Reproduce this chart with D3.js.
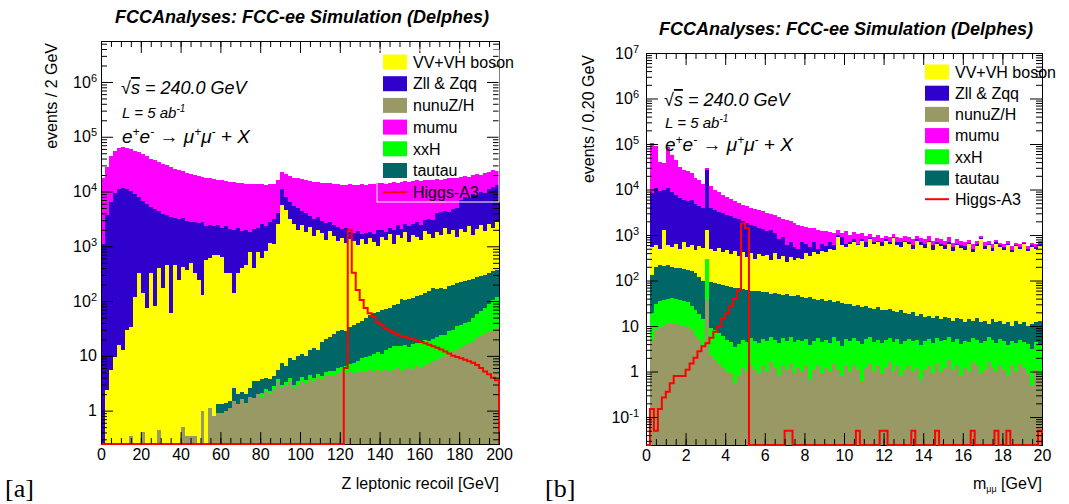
<!DOCTYPE html>
<html lang="en">
<head>
<meta charset="UTF-8" />
<title>FCC-ee recoil and dimuon mass</title>
<script src="https://d3js.org/d3.v7.min.js"></script>
<style>
  body { margin: 0; background: #fff; }
  svg { display: block; font-family: "Liberation Sans", Arial, sans-serif; }
</style>
</head>
<body>
<svg id="chart" width="1069" height="504"></svg>
<script>
// stack order, bottom first
const processes = ["nunuZ/H", "xxH", "tautau", "VV+VH boson", "Zll & Zqq", "mumu"];
const colors = ["#999966", "#00ff00", "#006666", "#ffff00", "#3000cc", "#ff00ff"];
const legendOrder = ["VV+VH boson", "Zll & Zqq", "nunuZ/H", "mumu", "xxH", "tautau"];

// ---- panel a: Z leptonic recoil, 2 GeV bins from 0 to 200
const nunuA = [
  0,0,0,0,0,0,0,0.35,0,0,
  0.4,0,0,0,0.45,0,0,0,0,0,
  0.5,0.35,0.35,0.35,0,1.0,0,1.1,0.8,0.9,
  0.9,1.0,1.1,1.5,1.3,1.6,1.4,1.8,1.7,2.0,
  1.8,2.2,2.0,2.4,3.4,2.6,2.8,3.4,2.6,3.0,
  3.5,3.2,3.8,3.4,4.0,3.6,4.2,4.5,4.2,4.8,
  5.0,4.6,5.2,4.8,5.0,5.4,5.0,5.6,5.2,5.5,
  5.0,5.8,5.3,5.6,6.0,5.4,5.8,6.2,5.6,6.4,
  6.0,6.8,7.5,8.0,8.5,9.5,10,11,12,13,
  14,16,17,19,21,23,25,27,29,32];
const xxhA = [
  0,0,0,0,0,0,0,0,0,0,
  0,0,0,0,0,0,0,0,0,0,
  0,0,0,0,0,0,0,0,0,0,
  0,0,0,0,0,0,0,0,0,0,
  0.3,0.3,0.3,0.4,0.4,0.4,0.5,0.5,0.4,0.5,
  0.6,0.5,0.6,0.6,0.7,0.7,0.8,0.9,1.0,1.2,
  1.3,1.9,1.8,2.7,3.0,3.6,4.7,4.4,5.8,6.5,
  6.0,7.2,8.7,9.5,9.0,9.6,10,8.5,11,10.5,
  12,13,11.5,12,13.5,14.5,14,17,18,22,
  23,24,25,31,36,42,50,63,76,88];
const tautauA = [
  0,0,0,0,0,0,0,0,0,0,
  0,0,0,0,0,0,0,0,0,0,
  0,0,0,0,0,0,0,0,0,0.4,
  0.4,0.4,0.4,1.1,0.7,0.6,0.6,0.8,1.8,1.5,
  1.7,1.5,1.5,1.4,1.7,4.5,3.2,5.1,5.5,6.5,
  6.9,6.3,8.6,10,8.3,13.7,15,16.6,19.8,22,
  23.7,21.5,26,28.5,32,35,40,45,49,50,
  59,59,60,70,75,92,89,95,95,108,
  112,120,131,150,143,151,145,162,170,175,
  190,190,198,200,213,225,225,230,245,250];
const vvA = [
  0,2.4,5.5,9.7,16,13,30,34,120,330,
  140,75,330,80,400,170,460,60,460,240,
  420,370,500,330,244,129,560,600,700,700,
  650,330,330,140,330,400,460,800,400,800,
  600,800,1150,1100,2500,5700,4500,3200,2500,2000,
  2400,1800,2200,1500,2000,1700,1300,1900,1500,1200,
  1400,1100,1300,1200,1000,1300,1050,1350,1150,940,
  1430,1230,1620,1015,1510,1300,1700,1090,1480,1375,
  1170,1760,1550,1240,1635,1425,2020,1510,1800,1290,
  1880,1570,2060,1340,1830,2110,1600,2280,1850,2430];
const zllA = [
  1100,3700,6500,9500,11000,11500,11000,10000,8900,7500,
  6700,5900,5000,4700,4000,3800,3200,3400,2800,2900,
  2800,2500,2300,2400,2400,2600,1800,1900,1600,1700,
  1550,1970,1770,1860,1870,1500,1540,1000,1700,1400,
  1900,1500,1650,2100,1500,5300,3500,3300,3000,3000,
  2000,2200,1400,1700,1400,1200,1300,900,900,1000,
  600,1000,500,500,900,300,650,450,450,960,
  500,500,500,900,800,700,700,1100,1000,1300,
  1200,1100,1500,1600,2200,2600,2300,2600,2800,3500,
  4900,6200,5200,7400,6400,7600,7600,8400,9800,10200];
const mumuA = [
  16900,24300,38500,46500,51000,52500,52000,50000,47000,44200,
  41200,38000,34700,32200,29600,28000,26300,24500,22700,21900,
  20800,19100,18200,17300,16400,15800,15600,15000,14700,14100,
  13800,13200,12900,13000,12300,12600,12000,12200,11400,11300,
  11000,10700,10700,10800,12000,12000,13000,12500,12500,12500,
  12600,12000,11900,11800,11600,11600,11400,11200,11100,11300,
  11000,10900,11700,11300,11100,11900,11300,11700,11900,12100,
  12500,12200,12300,13000,12100,12900,13000,12700,12900,13200,
  13000,13000,13300,13000,13000,12300,12500,13200,13200,12500,
  11500,11000,11000,11000,12500,10000,12500,12000,13000,11000];
const higgsA = [
  0,0,0,0,0,0,0,0,0,0,
  0,0,0,0,0,0,0,0,0,0,
  0,0,0,0,0,0,0,0,0,0,
  0,0,0,0,0,0,0,0,0,0,
  0,0,0,0,0,0,0,0,0,0,
  0,0,0,0,0,0,0,0,0,0,
  0,6,2000,330,160,105,75,60,52,42,
  37,32,30,27,25,23,22,21,20,19,
  18,17,16,15,14,13,12,11,10,9.5,
  9,8.5,8,7.5,6.8,6,5.2,4.6,4,3.6];

// ---- panel b: dimuon mass, 0.2 GeV bins from 0 to 20
const nunuB = [
  0,5,8,9,10,11,11,11,10.5,10,
  9.5,8,6.5,5,3.5,40,2.2,1.8,1.5,1.2,
  1.0,0.9,0.55,0.8,1.2,1.0,1.4,1.1,0.9,1.3,
  1.0,1.6,1.2,0.8,1.4,1.1,1.5,0.9,1.2,1.0,
  1.3,0.7,1.1,1.4,0.9,1.2,1.0,1.5,1.1,0.8,
  1.3,1.0,1.4,1.1,0.6,1.2,1.5,1.0,1.3,0.9,
  1.2,1.6,1.0,1.3,0.8,1.1,1.4,1.0,1.2,0.7,
  1.1,1.3,0.9,1.5,1.0,1.2,1.8,1.1,1.4,0.8,
  1.2,1.0,1.6,1.3,0.9,1.1,1.7,1.2,1.0,1.4,
  1.1,0.8,1.3,1.0,1.5,1.2,0.9,0.5,1.1,0.8];
const xxhB = [
  0,14,22,26,28,29,31,29,27.5,26,
  23.5,20,15.5,13,10.5,260,6.8,6.2,5.5,4.8,
  4.0,3.6,2.95,3.2,3.8,3.5,4.1,3.7,3.3,3.9,
  3.6,4.2,3.7,3.5,4.0,3.6,4.1,3.5,3.8,3.6,
  4.0,3.2,3.7,4.1,3.6,3.8,3.3,4.1,3.7,2.8,
  3.8,3.6,4.0,3.6,3.4,4.0,4.3,3.5,3.7,3.3,
  3.7,3.9,3.4,3.8,3.2,3.6,3.9,3.6,3.8,3.1,
  3.5,3.9,3.4,4.0,3.7,3.7,3.9,3.4,3.8,3.3,
  3.6,3.4,3.8,3.7,3.3,3.5,3.9,3.7,3.3,3.7,
  3.5,3.1,3.5,3.2,3.5,3.3,3.1,2.7,3.3,3.0];
const tautauB = [
  0,111,170,185,172,175,158,150,147,144,
  137,132,128,102,86,0,86,82,78,74,
  70,67.5,66.5,64,60,57.5,54.5,53,56,50,
  52,46,49,46,43,45,40,41,42,38,
  37,40,35,32.5,35.5,31,33,28.4,30,28.4,
  25,26.4,22.6,24.3,22,21.8,19.2,19.5,21,18.8,
  17.1,18.5,16.6,14.9,18,14.3,12.7,15.4,12,14.2,
  11.4,11.8,10.7,11.5,9.3,11.1,9.3,8.5,9.8,9.9,
  7.2,9.6,7.6,10,7.8,8.4,5.4,9.1,7.7,7.9,
  6.4,8.1,5.2,8.8,6,7.5,6,7.8,7.6,9.2];
const vvB = [
  0,420,400,280,1090,385,350,460,315,520,
  380,440,330,440,420,1000,405,360,435,340,
  405,308,380,282,355,268,340,242,320,285,
  303,228,346,250,302,210,284,235,263,257,
  358,306,380,342,410,384,463,436,865,568,
  520,619,672,571,724,523,775,626,674,557,
  728,596,829,580,528,681,632,480,733,582,
  504,683,465,603,546,484,635,437,585,506,
  468,606,407,545,788,487,589,436,638,537,
  469,588,410,547,489,608,440,539,488,587];
const zllB = [
  0,7850,10400,9000,8700,10400,8450,6850,6000,5300,
  4950,5200,4320,3740,3480,25700,3500,3150,2680,2580,
  2220,2220,1950,1850,1580,1470,1300,1300,1020,1010,
  840,1020,700,500,550,340,370,270,190,400,
  250,200,280,120,200,160,200,130,100,300,
  100,50,100,50,50,150,50,50,50,120,
  50,80,50,100,150,50,50,100,50,100,
  130,50,120,80,90,100,50,100,50,80,
  80,60,80,60,50,60,50,70,50,50,
  60,50,60,40,50,40,50,50,50,40];
const mumuB = [
  0,96600,79000,30500,28000,75000,48000,36500,25500,21000,
  19500,17200,13200,11700,9500,3000,8000,6400,5800,4500,
  4100,3600,3100,2800,2600,2500,2300,2200,2200,2050,
  1900,1600,1600,1700,1400,1500,1300,1300,1200,900,
  850,900,700,800,600,620,450,500,300,200,
  550,300,350,400,300,250,200,200,250,150,
  150,200,150,220,150,220,220,220,150,150,
  150,180,130,170,150,140,190,120,160,150,
  140,110,150,120,80,140,80,120,80,80,
  90,80,100,80,80,60,80,80,80,90];
const higgsB = [
  0,0.15,0.05,0.15,0.27,0.36,0.55,0.8,0.8,0.8,
  1.1,1.5,2.0,2.8,3.6,4.2,5.5,7.5,10,15,
  19,28,40,63,1800,1400,0,0,0,0,
  0,0,0,0,0,0.05,0.05,0,0,0,
  0,0,0,0,0,0,0,0,0,0,
  0,0,0,0.05,0,0,0,0,0,0.05,
  0.05,0,0,0,0,0,0,0.05,0,0,
  0,0,0,0.05,0,0,0,0,0,0,
  0,0,0.05,0,0,0,0,0,0.05,0,
  0,0.05,0,0,0,0,0,0,0,0.05];

// ticks
const xTicksA = [0, 20, 40, 60, 80, 100, 120, 140, 160, 180, 200];
const xTicksB = [0, 2, 4, 6, 8, 10, 12, 14, 16, 18, 20];
const yTicksA = [1, 10, 1e2, 1e3, 1e4, 1e5, 1e6];
const yTicksB = [0.1, 1, 10, 1e2, 1e3, 1e4, 1e5, 1e6, 1e7];

const svg = d3.select("#chart");

const panels = [
  {
    left: 101, right: 499, top: 41, bottom: 444,
    xDomain: [0, 200], binWidth: 2, yDomain: [0.246, 5.6e6],
    values: [nunuA, xxhA, tautauA, vvA, zllA, mumuA], higgs: higgsA,
    xTicks: xTicksA, xMinor: 5, yTicks: yTicksA, yPad: 4,
    title: { x: 302, y: 23 },
    yTitle: { text: "events / 2 GeV", x: 57, y: 43 },
    info: { x: 121, y: [94, 118, 143] },
    legend: { x: 383, y: 62, dy: 21.7, frame: [377, 50, 122, 152] },
    tag: { text: "[a]", x: 5 }
  },
  {
    left: 646, right: 1042, top: 53, bottom: 445,
    xDomain: [0, 20], binWidth: 0.2, yDomain: [0.0243, 1e7],
    values: [nunuB, xxhB, tautauB, vvB, zllB, mumuB], higgs: higgsB,
    xTicks: xTicksB, xMinor: 0.5, yTicks: yTicksB, yPad: 7,
    title: { x: 846, y: 35 },
    yTitle: { text: "events / 0.20 GeV", x: 594, y: 55 },
    info: { x: 664, y: [106, 128, 151] },
    legend: { x: 925, y: 72, dy: 21.2, frame: null },
    tag: { text: "[b]", x: 545 }
  }
];

function expLabel(sel) {
  sel.each(function(d) {
    const e = Math.round(Math.log10(d));
    const t = d3.select(this).text(null);
    if (e === 0 || e === 1) {
      t.text(d3.format("d")(d));
    } else {
      t.append("tspan").text("10");
      t.append("tspan").attr("dy", -6).attr("font-size", "11px").text(e);
    }
  });
}

// text with superscripts: parts are [string, isSup]
function richText(sel, parts, supSize, lift) {
  let raised = false;
  parts.forEach(([txt, sup]) => {
    const ts = sel.append("tspan").text(txt);
    if (sup && !raised) { ts.attr("dy", -lift); raised = true; }
    else if (!sup && raised) { ts.attr("dy", lift); raised = false; }
    if (sup) ts.attr("font-size", supSize);
  });
}

function drawPanel(p) {
  const g = svg.append("g");
  const x = d3.scaleLinear().domain(p.xDomain).range([p.left, p.right]);
  const y = d3.scaleLog().domain(p.yDomain).range([p.bottom, p.top]).clamp(true);
  const yMin = p.yDomain[0];
  const edge = b => p.xDomain[0] + b * p.binWidth;

  // stacked histogram
  const rows = p.values[0].map((_, b) => {
    const r = { bin: b };
    processes.forEach((k, i) => r[k] = p.values[i][b]);
    return r;
  });
  const stacked = d3.stack().keys(processes)(rows);
  stacked.forEach((layer, i) => {
    g.append("g")
      .attr("fill", colors[i])
      .attr("shape-rendering", "crispEdges")
      .selectAll("rect")
      .data(layer.filter(d => d[1] > d[0]))
      .join("rect")
      .attr("x", d => x(edge(d.data.bin)))
      .attr("width", d => x(edge(d.data.bin + 1)) - x(edge(d.data.bin)))
      .attr("y", d => y(d[1]))
      .attr("height", d => y(Math.max(d[0], yMin)) - y(Math.max(d[1], yMin)));
  });

  // frame
  g.append("rect")
    .attr("x", p.left).attr("y", p.top)
    .attr("width", p.right - p.left).attr("height", p.bottom - p.top)
    .attr("fill", "none").attr("stroke", "#000").attr("stroke-width", 1)
    .attr("shape-rendering", "crispEdges");

  // signal as a step line
  const pts = [[x(edge(0)), y(yMin)]];
  p.higgs.forEach((v, b) => {
    const yy = y(Math.max(v, yMin));
    pts.push([x(edge(b)), yy], [x(edge(b + 1)), yy]);
  });
  pts.push([x(edge(p.higgs.length)), y(yMin)]);
  g.append("path")
    .attr("d", d3.line()(pts))
    .attr("fill", "none").attr("stroke", "#ff0000").attr("stroke-width", 2);

  // axes, ROOT style: ticks inside on all four sides
  const xMinor = d3.range(p.xDomain[0], p.xDomain[1] + 1e-9, p.xMinor);
  const yMinor = [];
  for (let e = Math.floor(Math.log10(p.yDomain[0])); e <= Math.ceil(Math.log10(p.yDomain[1])); e++) {
    for (let k = 2; k <= 9; k++) {
      const v = k * Math.pow(10, e);
      if (v >= p.yDomain[0] && v <= p.yDomain[1]) yMinor.push(v);
    }
  }
  const clean = s => s.call(a => a.select(".domain").remove()).attr("font-family", null);

  g.append("g").attr("transform", `translate(0,${p.bottom})`)
    .call(d3.axisBottom(x).tickValues(p.xTicks).tickSize(-12).tickPadding(5).tickFormat(d3.format("d")))
    .call(clean).attr("font-size", 16);
  g.append("g").attr("transform", `translate(0,${p.bottom})`)
    .call(d3.axisBottom(x).tickValues(xMinor).tickSize(-6).tickFormat("")).call(clean);
  g.append("g").attr("transform", `translate(0,${p.top})`)
    .call(d3.axisTop(x).tickValues(p.xTicks).tickSize(-12).tickFormat("")).call(clean);
  g.append("g").attr("transform", `translate(0,${p.top})`)
    .call(d3.axisTop(x).tickValues(xMinor).tickSize(-6).tickFormat("")).call(clean);

  g.append("g").attr("transform", `translate(${p.left},0)`)
    .call(d3.axisLeft(y).tickValues(p.yTicks).tickSize(-12).tickPadding(p.yPad))
    .call(clean).attr("font-size", 16)
    .selectAll(".tick text").call(expLabel);
  g.append("g").attr("transform", `translate(${p.left},0)`)
    .call(d3.axisLeft(y).tickValues(yMinor).tickSize(-6).tickFormat("")).call(clean);
  g.append("g").attr("transform", `translate(${p.right},0)`)
    .call(d3.axisRight(y).tickValues(p.yTicks).tickSize(-12).tickFormat("")).call(clean);
  g.append("g").attr("transform", `translate(${p.right},0)`)
    .call(d3.axisRight(y).tickValues(yMinor).tickSize(-6).tickFormat("")).call(clean);

  // title
  g.append("text")
    .attr("x", p.title.x).attr("y", p.title.y)
    .attr("text-anchor", "middle")
    .attr("font-size", 18).attr("font-weight", "bold").attr("font-style", "italic")
    .text("FCCAnalyses: FCC-ee Simulation (Delphes)");

  // y title
  g.append("text")
    .attr("transform", `translate(${p.yTitle.x},${p.yTitle.y}) rotate(-90)`)
    .attr("text-anchor", "end").attr("font-size", 16)
    .text(p.yTitle.text);

  // info block
  const s1 = g.append("text").attr("x", p.info.x).attr("y", p.info.y[0])
    .attr("font-size", 18).attr("font-style", "italic");
  s1.append("tspan").text("\u221A");
  s1.append("tspan").attr("text-decoration", "overline").text("s");
  s1.append("tspan").text(" = 240.0 GeV");

  const s2 = g.append("text").attr("x", p.info.x + 1).attr("y", p.info.y[1])
    .attr("font-size", 15).attr("font-style", "italic");
  richText(s2, [["L = 5 ab", false], ["-1", true]], 10, 6);

  const s3 = g.append("text").attr("x", p.info.x + 1).attr("y", p.info.y[2])
    .attr("font-size", 19).attr("font-style", "italic");
  richText(s3, [
    ["e", false], ["+", true], ["e", false], ["-", true],
    [" \u2192 \u03BC", false], ["+", true], ["\u03BC", false], ["-", true],
    [" + X", false]
  ], 12, 7);

  // legend
  const lg = g.append("g");
  if (p.legend.frame) {
    const f = p.legend.frame;
    lg.append("rect").attr("x", f[0]).attr("y", f[1]).attr("width", f[2]).attr("height", f[3])
      .attr("fill", "none").attr("stroke", "#ffffff").attr("stroke-width", 1);
  }
  legendOrder.forEach((name, i) => {
    const cy = p.legend.y + i * p.legend.dy;
    lg.append("rect").attr("x", p.legend.x).attr("y", cy - 7.5)
      .attr("width", 24).attr("height", 15)
      .attr("fill", colors[processes.indexOf(name)]);
    lg.append("text").attr("x", p.legend.x + 30).attr("y", cy).attr("dy", "0.36em")
      .attr("font-size", 16).text(name);
  });
  const hy = p.legend.y + 6 * p.legend.dy;
  lg.append("line").attr("x1", p.legend.x).attr("x2", p.legend.x + 24)
    .attr("y1", hy).attr("y2", hy).attr("stroke", "#ff0000").attr("stroke-width", 2);
  lg.append("text").attr("x", p.legend.x + 30).attr("y", hy).attr("dy", "0.36em")
    .attr("font-size", 16).text("Higgs-A3");

  // panel tag
  g.append("text").attr("x", p.tag.x).attr("y", 497)
    .attr("font-family", "'Liberation Serif', 'DejaVu Serif', serif").attr("font-size", 26)
    .text(p.tag.text);
}

panels.forEach(drawPanel);

// x titles
svg.append("text").attr("x", 499).attr("y", 489).attr("text-anchor", "end")
  .attr("font-size", 16).text("Z leptonic recoil [GeV]");
const mt = svg.append("text").attr("x", 1042).attr("y", 489).attr("text-anchor", "end")
  .attr("font-size", 16);
mt.append("tspan").text("m");
mt.append("tspan").attr("dy", 3).attr("font-size", 9).text("\u03BC\u03BC");
mt.append("tspan").attr("dy", -3).text(" [GeV]");
</script>
</body>
</html>
